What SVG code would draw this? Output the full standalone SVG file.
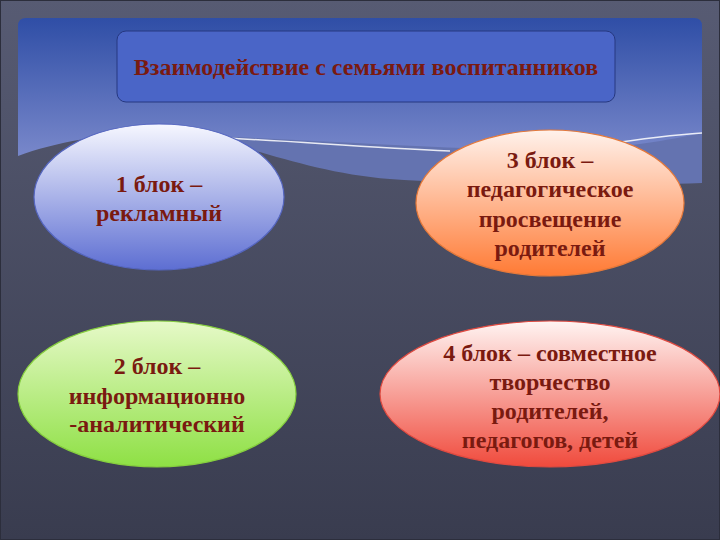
<svg xmlns="http://www.w3.org/2000/svg" width="720" height="540" viewBox="0 0 720 540">
<defs>
<linearGradient id="bg" gradientUnits="userSpaceOnUse" x1="0" y1="0" x2="0" y2="540">
<stop offset="0" stop-color="#575b73"/><stop offset="1" stop-color="#393c4f"/>
</linearGradient>
<linearGradient id="panel" gradientUnits="userSpaceOnUse" x1="0" y1="18" x2="0" y2="190">
<stop offset="0" stop-color="#2f4ea6"/><stop offset="0.75" stop-color="#7484c8"/><stop offset="1" stop-color="#8492d0"/>
</linearGradient>
<linearGradient id="g1" x1="0" y1="0" x2="0" y2="1">
<stop offset="0" stop-color="#f6f7ff"/><stop offset="1" stop-color="#5d6ed2"/>
</linearGradient>
<linearGradient id="g2" x1="0" y1="0" x2="0" y2="1">
<stop offset="0" stop-color="#e6f9c8"/><stop offset="1" stop-color="#8ee044"/>
</linearGradient>
<linearGradient id="g3" x1="0" y1="0" x2="0" y2="1">
<stop offset="0" stop-color="#fff2ec"/><stop offset="1" stop-color="#ff7a34"/>
</linearGradient>
<linearGradient id="g4" x1="0" y1="0" x2="0" y2="1">
<stop offset="0" stop-color="#fff4f2"/><stop offset="1" stop-color="#f04a3c"/>
</linearGradient>
<style>
.t{font-family:"Liberation Serif","Times New Roman",serif;font-weight:bold;font-size:24px;fill:#7a1a10;text-anchor:middle}
.e{stroke-width:1.2}
</style>
</defs>
<rect x="0" y="0" width="720" height="540" fill="url(#bg)"/>
<rect x="0.5" y="0.5" width="719" height="539" fill="none" stroke="#2c2e3c" stroke-width="1"/>
<g id="background-panel">
<path d="M26,18 H694 Q702,18 702,26 V200 H18 V26 Q18,18 26,18 Z" fill="url(#panel)"/>
<path d="M172,135 C300,138 440,150 560,150 C620,149 670,140 702,133 V200 H172 Z" fill="#6473b0"/>
<path d="M18,156 C60,140 120,131 175,134 C235,138 300,172 390,179 C490,186 620,186 702,183 V202 H18 Z" fill="url(#bg)"/>
<path d="M170,136 C260,138 340,146 450,151" fill="none" stroke="#ffffff" stroke-opacity="0.85" stroke-width="1.5"/>
<path d="M600,145 C640,139 670,135 702,133" fill="none" stroke="#ffffff" stroke-opacity="0.85" stroke-width="1.5"/>
</g>
<g id="title">
<rect x="117" y="31" width="498" height="71" rx="9" fill="#4a65c7" stroke="#263880" stroke-width="1"/>
<text class="t" x="366" y="75">Взаимодействие с семьями воспитанников</text>
</g>
<g id="block1">
<ellipse class="e" cx="159" cy="197" rx="125" ry="73" fill="url(#g1)" stroke="#5566c0"/>
<text class="t" x="159" y="192">1 блок –</text>
<text class="t" x="159" y="221">рекламный</text>
</g>
<g id="block3">
<ellipse class="e" cx="550" cy="203" rx="134" ry="73" fill="url(#g3)" stroke="#e5793a"/>
<text class="t" x="550" y="168">3 блок –</text>
<text class="t" x="550" y="197">педагогическое</text>
<text class="t" x="550" y="227">просвещение</text>
<text class="t" x="550" y="256">родителей</text>
</g>
<g id="block2">
<ellipse class="e" cx="157" cy="394" rx="139" ry="73" fill="url(#g2)" stroke="#86cf3e"/>
<text class="t" x="157" y="374">2 блок –</text>
<text class="t" x="157" y="404">информационно</text>
<text class="t" x="157" y="432">-аналитический</text>
</g>
<g id="block4">
<ellipse class="e" cx="550" cy="394" rx="170" ry="73" fill="url(#g4)" stroke="#e04a40"/>
<text class="t" x="550" y="361">4 блок – совместное</text>
<text class="t" x="550" y="390">творчество</text>
<text class="t" x="550" y="419">родителей,</text>
<text class="t" x="550" y="448">педагогов, детей</text>
</g>
<g id="connectors"/>
</svg>
